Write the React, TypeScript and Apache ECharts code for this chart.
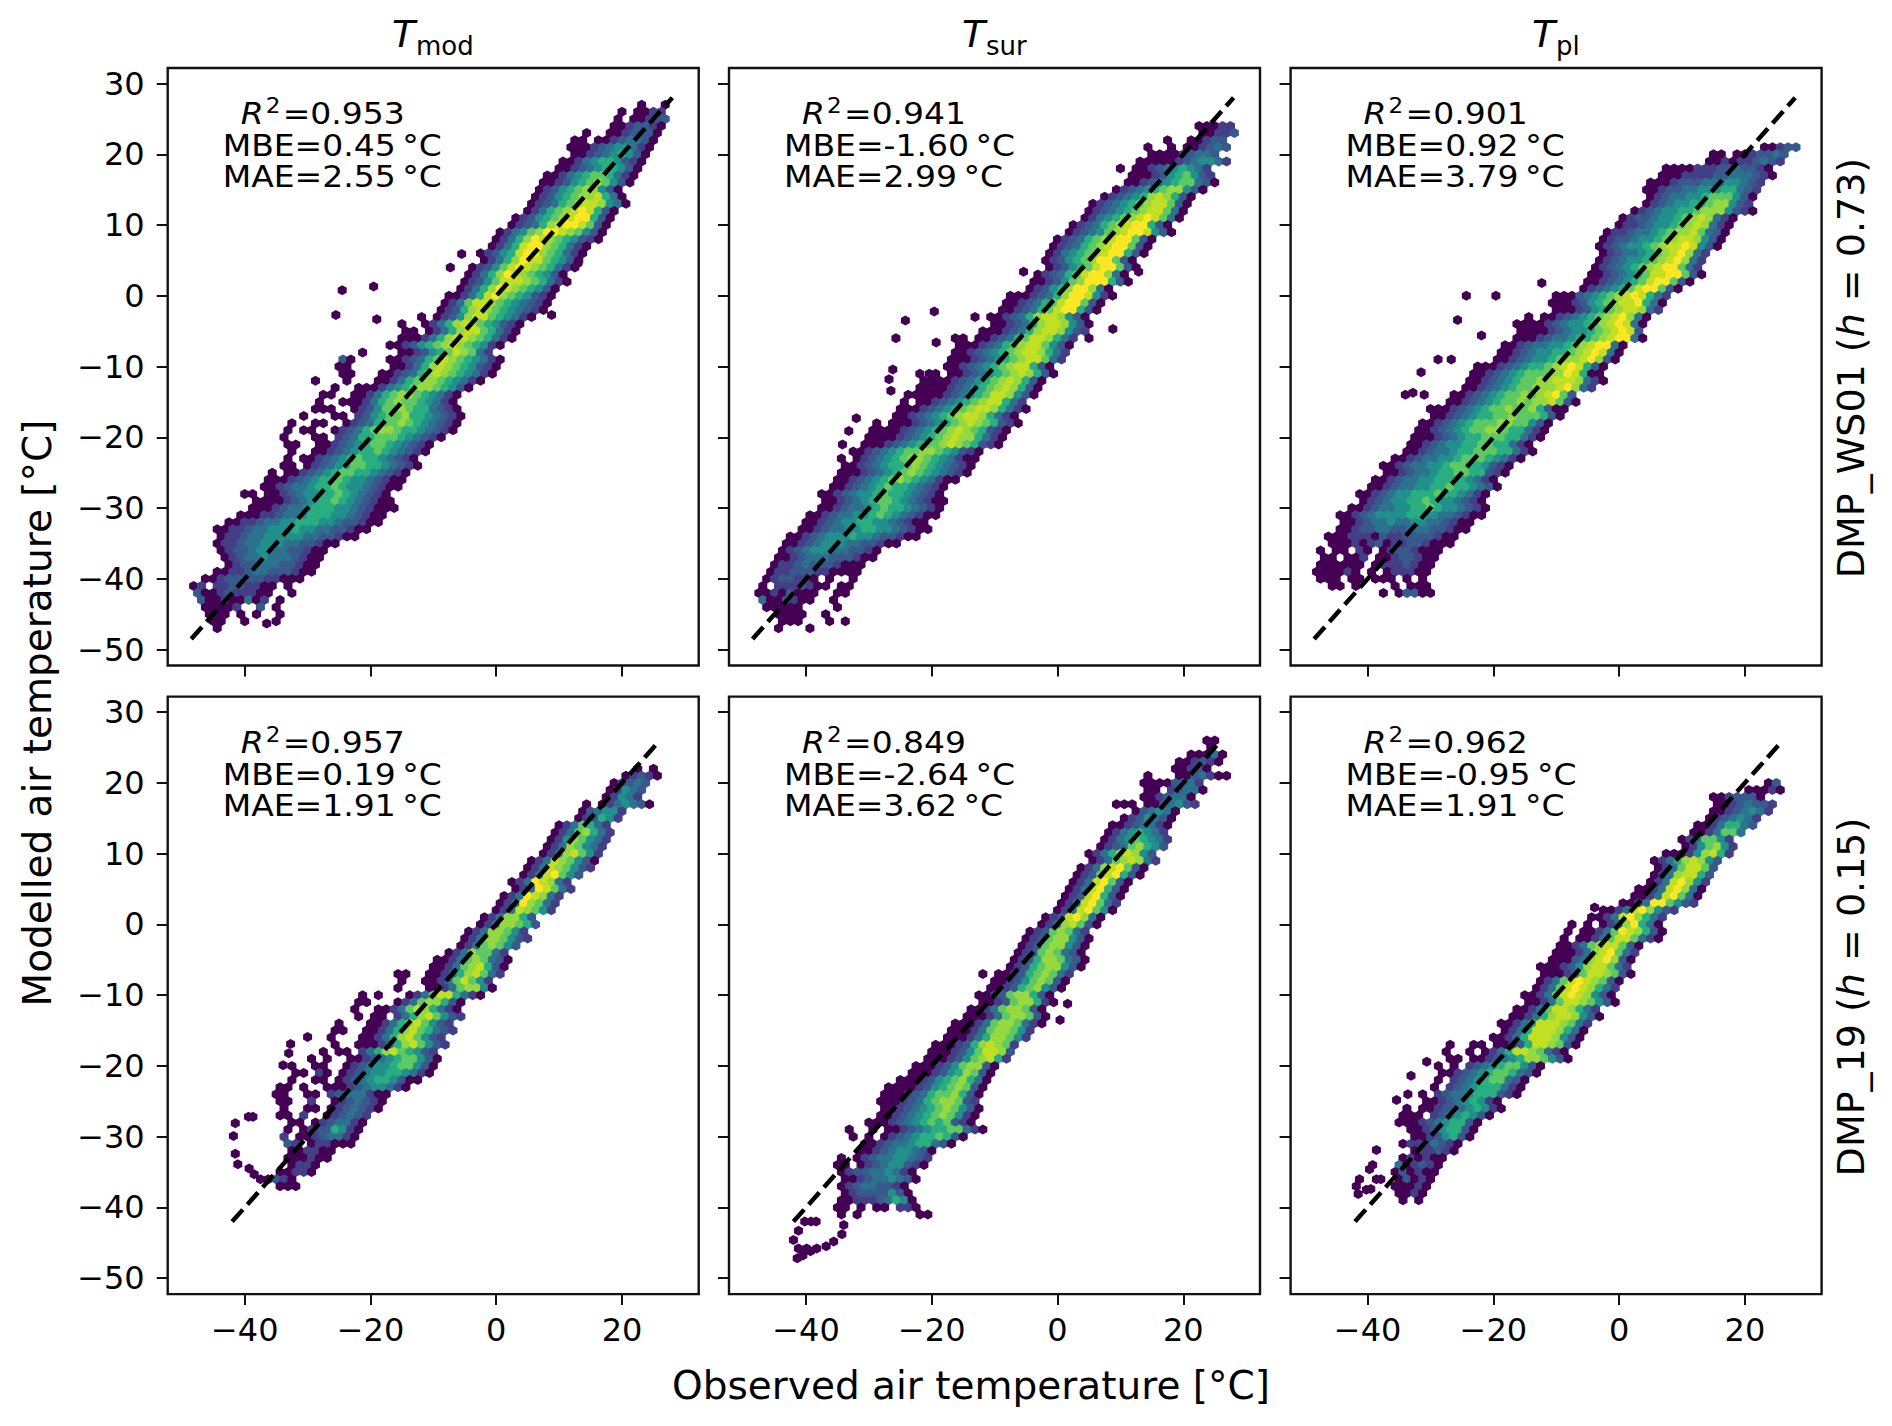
import React, { useEffect, useRef } from "react";
import * as echarts from "echarts";

type Row = [number, number, string];
const FONT = "DejaVu Sans";
const axisRange = [-52.25, 32.2];
const xTicks = [-40, -20, 0, 20];
const yTicks = [-50, -40, -30, -20, -10, 0, 10, 20, 30];
const viridis = ["#440154", "#433e85", "#38598c", "#2c728e", "#21908c", "#28ae80", "#5ec962", "#95d840", "#c2df23", "#fde725"];
const titles = [["T", "mod"], ["T", "sur"], ["T", "pl"]];
const r2Vals = ["0.953", "0.941", "0.901", "0.957", "0.849", "0.962"];
const mbeVals = ["0.45", "-1.60", "0.92", "0.19", "-2.64", "-0.95"];
const maeVals = ["2.55", "2.99", "3.79", "1.91", "3.62", "1.91"];
const lineEnds = [[-48.5, 28], [-48.5, 28], [-48.5, 28], [-42, 25.5], [-42, 25.5], [-42, 25.5]];

// [y, left x, density level per hex cell (0-9, "." = empty)]
const hexTmodWS: Row[] = [
  [27, 23, "0..0"], [26, 20.5, "0.0011"], [25, 19.5, "0.00122"], [24, 19, "0012210"], [23, 14, "0..0012220"], [22, 13, "00.00123320"],
  [21, 11.5, "00012344310"], [20, 12, "0012345420"], [19, 11, "00134554210"], [18, 10, "00123455420"], [17, 8.5, "001345665310"],
  [16, 8, "001245676420"], [15, 7, "01245677420"], [14, 6, "012456778530"], [13, 5, "0123567887430"], [12, 4.5, "013567898520"],
  [11, 3, "0124567899520"], [10, 2, "0123578998620"], [9, 0.5, "01346799876420"], [8, -0.5, "01357987654210"], [7, -1, "0135899765310"],
  [6, -2, "01245899765310"], [5, -2.5, "0135798865420"], [4, -3.5, "01246898765310"], [3, -4, "0135798765420"], [2, -5, "01246888765310"],
  [1, -6, "0135798765420"], [0, -7.5, "00135897654210"], [-1, -8, "01368876543210"], [-2, -9, "01257876543210"], [-3, -12, "0.0124788654310"],
  [-4, -15, "0..0135788654210"], [-5, -14, "00.013578865310"], [-6, -15, "000135788765310"], [-7, -16.5, "001245678765410"],
  [-8, -21, "0....001245687631"], [-9, -25, "20....001235687654310"], [-10, -25.5, "00.....00135787654210"], [-11, -24, "00...001235787654310"],
  [-12, -29, "0...0...00135677654310"], [-13, -26, "0..000134567765420"], [-14, -27, "00..00135677654310"], [-15, -28, "0..000135676654310"],
  [-16, -29, "000..01246676553210"], [-17, -31, "0...00.12456675543210"], [-18, -32, "0..00..012356676543210"], [-19, -33, "0.00..0123567765543210"],
  [-20, -34, "0...00.12355666543210"], [-21, -33.5, "00..001234566543210"], [-22, -33, "0..001234556543210"], [-23, -33, "0.001234565543210"],
  [-24, -34, "00.012345665543210"], [-25, -36, "0.0012345665543210"], [-26, -36, "000123455654432100"], [-27, -37, "001233455654432100"],
  [-28, -39.5, "00.0012344556543210"], [-29, -38, "000012345565432100"], [-30, -39, "0001233455544321000"], [-31, -41, "0001123345554432100"],
  [-32, -43, "00112334455544322100"], [-33, -44, "00112334445443322100"], [-34, -44, "011233444443322100"], [-35, -44, "0112334443322100"],
  [-36, -43.5, "01223443322100"], [-37, -43, "0123343332100"], [-38, -43, "012233322100"], [-39, -45, "0011233222100"], [-40, -46, "0012222211000"],
  [-41, -48, "01.11221100.0"], [-42, -47.5, "2001211100..0"], [-43, -47, "200100301.0"], [-44, -46, "00001..2.0"], [-45, -46, "000.0.0..0"],
  [-46, -45, "00..0...0"], [-47, -44.5, "0"],
];
const outTmodWS = [[-24.5, 0.8], [-19.5, 1.3], [-25.5, -2.7], [-19, -3.3], [-36.5, -46.3], [8.8, -2.7], [-7.3, 4], [-5.5, 5.9], [13, 4.6]];

const hexTsurWS: Row[] = [
  [24, 23, "00011"], [23, 23, "00112"], [22, 17.5, "0..00122"], [21, 14.5, "0..0.001232"], [20, 15.5, "000012332"], [19, 12.5, "000001234431"],
  [18, 10.5, "0.0012345431"], [17, 11.5, "00012456421"], [16, 11, "001234566320"], [15, 9, "012345677420"], [14, 8, "012345787520"],
  [13, 6, "0123456788620"], [12, 4.5, "0123456788630"], [11, 4, "0134567898630"], [10, 3, "0123567899520"], [9, 1.5, "01234678998420"],
  [8, 0, "0123567899620"], [7, -1, "0123567899620"], [6, -1.5, "0134567899520"], [5, -1.5, "012456799620"], [4, -1.5, "012456899620"],
  [3, -3, "012356899730"], [2, -3.5, "0012467999520"], [1, -4, "01245799730"], [0, -7.5, "00012357998410"], [-1, -8, "0012356899620"],
  [-2, -9, "0012356899520"], [-3, -12.7, "0.0012357887420"], [-4, -10, "0012357887420"], [-5, -12, "00012357887421"], [-6, -16, "00.0012356887531"],
  [-7, -15.5, "000123567886420"], [-8, -16, "001234567887531"], [-9, -17, "000123456788631"], [-10, -17.5, "00123456788520"], [-11, -20, "0.00123456787520"],
  [-12, -21, "0000123456787520"], [-13, -22, "0000123456787520"], [-14, -23.5, "00000123456887420"], [-15, -24.5, "0.00123456788531"],
  [-16, -25, "00012345678875310"], [-17, -26, "0012345678875310"], [-18, -29, "0.00012345678765210"], [-19, -29, "000012345678765210"],
  [-20, -29.5, "000012345678775310"], [-21, -31, "000123456678765210"], [-22, -32, "00123456677654210"], [-23, -34, "0.0123456776543100"],
  [-24, -34, "00123455676543210"], [-25, -35, "00012345676543210"], [-26, -35, "0012345676543100"], [-27, -36, "001234565543210"],
  [-28, -38, "0012344565543210"], [-29, -37, "0012345665432100"], [-30, -37.5, "0012334565543210"], [-31, -39, "00123344565432100"],
  [-32, -40, "0012344554432100"], [-33, -41, "00123344554432100"], [-34, -42, "00123444544322100"], [-35, -43, "001234443322100"],
  [-36, -44, "0123444332210"], [-37, -44.5, "0012333222100"], [-38, -45, "011232221000"], [-39, -45.5, "011222110000"], [-40, -46, "0122110.0..0"],
  [-41, -47, "0.1112100.00"], [-42, -48, "00102000..00"], [-43, -47.5, "3002100..0"], [-44, -46, "00000....0"], [-45, -45, "0000..0.."],
  [-46, -44, "000...0.0"], [-47, -44, "0...0"],
];
const outTsurWS = [[-19.6, -2.2], [-24.2, -3.5], [-25.7, -6], [-19.3, -6.6], [-26.2, -10.4], [-26.8, -11.8], [-26.5, -13.4], [-21.9, -11], [-20.4, -11], [8.8, -4.7], [12.9, 3.4], [-5.4, 3.4], [5, -6], [-32, -17.3], [-33.2, -19.1], [-34.2, -21]];

const hexTplWS: Row[] = [
  [21, 22.5, "00122"], [20, 14.5, "00.0012232"], [19, 14, "0010112321"], [18, 8, "00001112232210"], [17, 7, "000111122333210"], [16, 5, "000122233344321"],
  [15, 4.5, "001223344455321"], [14, 4.5, "01233445666420"], [13, 4, "01234455677421"], [12, 2.5, "0123445567774210"], [11, 1, "012234456787310"],
  [10, 0, "011234456787310"], [9, -1.5, "0112334567786320"], [8, -2, "0122344567887420"], [7, -3, "0123445678898420"], [6, -3, "01233456789731"],
  [5, -3, "01234456789731"], [4, -3.5, "01234567899631"], [3, -5, "001234568899620"], [2, -5.5, "00123456899620"], [1, -6, "0123456899620"],
  [0, -9.5, "000234567898531"], [-1, -10.5, "000124567889530"], [-2, -10.5, "00012456788731"], [-3, -14, "0.00123456789730"], [-4, -16, "00001234456789830"],
  [-5, -16, "0000123445678982"], [-6, -16.5, "00012334556789930"], [-7, -18.5, "0012334456789930"], [-8, -19, "0012344556789830"], [-9, -20, "0012344567789720"],
  [-10, -22, "00012345567898520"], [-11, -23, "00123456667798500"], [-12, -24, "001234566778887310"], [-13, -25, "00123456677789731"], [-14, -26, "0012345667678962"],
  [-15, -27, "00123456676778620"], [-16, -30, "000123456676675200"], [-17, -30, "00123455667666520"], [-18, -31, "00123456667766420"], [-19, -31.5, "00123456677655310"],
  [-20, -33, "00012345566655310"], [-21, -33.5, "0012344556655310"], [-22, -34, "00123345566655310"], [-23, -36, "00123344566654310"], [-24, -37, "00123344566554210"],
  [-25, -37, "0012334556655210"], [-26, -38.5, "0012334455554310"], [-27, -40, "00123344556554320"], [-28, -41, "00123445556554310"], [-29, -41, "0123445565443210"],
  [-30, -43, "001233445565443210"], [-31, -44, "0012344445544332100"], [-32, -44, "00123343344332100"], [-33, -45, "00122332233322100"], [-34, -46, "00011102112222100"],
  [-35, -46, "0001012011221000"], [-36, -47, "0.00.10.01221000"], [-37, -47, "00.001.00122100"], [-38, -48, "000000.01112100"], [-39, -48.5, "000010.0.011100"],
  [-40, -47.5, "000.00.000.0.0"], [-41, -46, "00.0....0.000"], [-42, -38, "0.02200"],
];
const outTplWS = [[-24.3, 0], [-19.6, 0], [-25.7, -3.4], [-21.9, -5.6], [-31.5, -10.8], [-28.8, -9], [-26.7, -9], [-12.3, 1.8], [-32.8, -13.7], [-34, -14], [-31, -14]];

const hexTmod19: Row[] = [
  [22, 23, "0.0"], [21, 20, "01210"], [20, 19, "01232"], [19, 17.5, "01432"], [18, 17, "01431"], [17, 14.5, "0.0134320"], [16, 14, "023441"], [15, 12.5, "012541"],
  [14, 10.5, "0136531"], [13, 9.5, "01367531"], [12, 8.5, "01476431"], [11, 8, "01376431"], [10, 7, "01378641"], [9, 5.5, "013876420"], [8, 4.5, "013876421"], [7, 4, "01389642"],
  [6, 3, "01398731"], [5, 2.5, "01398631"], [4, 1.5, "01398731"], [3, 0, "01397631"], [2, -0.5, "01387641"], [1, -1.5, "0137752"], [0, -3, "01377652"], [-1, -4, "01377641"],
  [-2, -5.5, "013776421"], [-3, -6, "01367642"], [-4, -7, "01376631"], [-5, -9.5, "0013676320"], [-6, -10, "0013678520"], [-7, -15.5, "00..0012578631"], [-8, -15.5, "0..001368641"],
  [-9, -15.5, "0...001367740"], [-10, -21, "0.0...0136885310"], [-11, -21.5, "00...013677520"], [-12, -22, "0..00136875310"], [-13, -21.5, "0.00.135786421"], [-14, -25, "0...00135786421"],
  [-15, -26, "00..001357865321"], [-16, -26, "0...00135786421"], [-17, -26, "0..000135786421"], [-18, -27, "0.00.1357865421"], [-19, -30, "0.0..001234566420"], [-20, -32, "0..00..012344566420"],
  [-21, -32.5, "00.10.012344554310"], [-22, -33, "0..00.01234554200"], [-23, -34.5, "00.0..00012344310"], [-24, -34.5, "00..00.12333100"], [-25, -35, "00..1..0123210"], [-26, -34, "0..00.0123210"],
  [-27, -34, "00.1..012321"], [-28, -34, ".00.0123310"], [-29, -33, "0.01225410"], [-30, -33.5, "1.00123310"], [-31, -33.5, "21.011000"], [-32, -33, "001100"], [-33, -33, "000100"],
  [-34, -33, "0110"], [-35, -35, "00110"], [-36, -37, "00210"], [-37, -34.5, "000"],
];
const outTmod19 = [[-41.8, -29.9], [-41.5, -28.1], [-39.4, -27.2], [-38.7, -27.2], [-41.5, -32.4], [-41.1, -33.9], [-39.3, -34.5], [-38.5, -35.3], [-30, -15.9], [-32.7, -16.9], [-33, -18.2], [-33.9, -19.9]];

const hexTsur19: Row[] = [
  [26, 24, "00"], [25, 24.5, "0"], [24, 21.5, "00030"], [23, 19.5, "001210"], [22, 19, "00120"], [21, 14.5, "0...0023100"], [20, 14, "00002331"], [19, 14, "00.12330"],
  [18, 13.5, "0012330"], [17, 9.5, "000.0023421"], [16, 12, "023430"], [15, 11, "0124320"], [14, 8.5, "00123310"], [13, 8, "01345431"], [12, 7, "013465431"], [11, 6.5, "012367542"],
  [10, 5.5, "013578742"], [9, 5, "013678731"], [8, 4, "013789620"], [7, 3.5, "012689520"], [6, 2.5, "01389620"], [5, 2, "01389520"], [4, 1, "01289520"], [3, 0, "01389631"],
  [2, -0.5, "01389640"], [1, -1.5, "01289730"], [0, -2.5, "01378620"], [-1, -4, "01267631"], [-2, -5, "012677420"], [-3, -5.5, "012677420"], [-4, -6, "012676320"], [-5, -6.5, "0125776320"],
  [-6, -7.5, "0125677420"], [-7, -11.5, "0.0012567631"], [-8, -10.5, "0012467620"], [-9, -11, "0012567420"], [-10, -12, "0012677520"], [-11, -12.5, "0012677510"], [-12, -14, "0013677620"],
  [-13, -15, "00013677620"], [-14, -16, "000136776310"], [-15, -17, "00013677641"], [-16, -18, "00013577641"], [-17, -19, "00012578761"], [-18, -20, "00012468872"], [-19, -21, "00012467851"],
  [-20, -22, "00012467720"], [-21, -23, "00012457620"], [-22, -25, "000124567530"], [-23, -27, "0000124567620"], [-24, -28, "0001235667520"], [-25, -28.5, "0001235677621"], [-26, -28, "0012345676420"],
  [-27, -28, "0012345676410"], [-28, -29.5, "00012345656210"], [-29, -33, "0..0.0012345566310"], [-30, -33, "0.0.01234556520"], [-31, -31, "001233455320"], [-32, -31, "0012344320"],
  [-33, -34, "0.0123344321"], [-34, -35, "00.012344210"], [-35, -34, "0122334310"], [-36, -34, "0012334320"], [-37, -34, "012332210"], [-38, -34, "012222420"], [-39, -34.5, "0011123540"],
  [-40, -34.5, "00.0.00.110"], [-41, -34, "0.0.......00"],
];
const outTsur19 = [[-40.2, -42], [-39.2, -42], [-38.4, -42], [-41.2, -43.3], [-42, -44.6], [-41.2, -45.8], [-39.9, -45.8], [-38.3, -45.8], [-36.8, -45.5], [-35.6, -44.8], [-34.3, -43.8], [-34, -42.5], [-41.4, -47.2], [-40.5, -46.8], [-39.3, -46.2], [1.6, -11.2], [0.4, -13.5]];

const hexTpl19: Row[] = [
  [20, 24, "02"], [19, 21, "00010"], [18, 15.5, "0012220"], [17, 15.5, "00123221"], [16, 14.5, "00123431"], [15, 14, "0123431"], [14, 12.5, "00135532"], [13, 12, "0013663"],
  [12, 10.5, "0136641"], [11, 10, "0146741"], [10, 7, "000147851"], [9, 6, "013578742"], [8, 6, "01368862"], [7, 5, "01378852"], [6, 5, "01389741"], [5, 2.5, "001389730"],
  [4, 2, "001389630"], [3, 0, "0013996421"], [2, -2, "0013897421"], [1, -4, "0013897531"], [0, -7.5, "0.0.01379530"], [-1, -8, "0.00136987520"], [-2, -8.5, "0.00136886310"],
  [-3, -9, "00136788620"], [-4, -10, "00013789631"], [-5, -11, "00023789720"], [-6, -12, "000124788631"], [-7, -12.5, "000136887620"], [-8, -12.5, "01368987620"], [-9, -13, "01368987531"],
  [-10, -14.5, "001368987420"], [-11, -15, "001368876420"], [-12, -16, "00136887531"], [-13, -17.5, "001357887420"], [-14, -18.5, "001358887631"], [-15, -18.5, "01358887530"],
  [-16, -20, "001358887420"], [-17, -27, "0..00.00125887620"], [-18, -27, "0..0.01358876310"], [-19, -27.5, "00.0012345776420"], [-20, -29, "0.0.1234566420"], [-21, -28, "0012345665320"],
  [-22, -28.5, "0.1234566320"], [-23, -29.5, "0.1234555310"], [-24, -31, "0.12334555210"], [-25, -30.5, "0012345410"], [-26, -34, "0.00122345410"], [-27, -34, "000.12345420"],
  [-28, -34.5, "00012345520"], [-29, -33.5, "001245520"], [-30, -33, "00124520"], [-31, -34, "01113210"], [-32, -33, "011210"], [-33, -34, "010100"], [-34, -35.5, "301210"],
  [-35, -36, "020100"], [-36, -35, "02010"], [-37, -35.5, "00010"], [-38, -35.5, "0010"], [-39, -35, "0.0"],
];
const outTpl19 = [[-38.6, -31.9], [-39.2, -34], [-39.7, -34.6], [-41.3, -36], [-38.6, -36], [-40.2, -37.5], [-41.8, -37], [-41.5, -38.1], [-39.5, -37.4], [-37.9, -36], [-33.1, -21.4], [-30.6, -19.4], [-33.6, -24], [-35.4, -24.8], [-3.9, 2.4]];

const panelHex = [hexTmodWS, hexTsurWS, hexTplWS, hexTmod19, hexTsur19, hexTpl19];
const panelOut = [outTmodWS, outTsurWS, outTplWS, outTmod19, outTsur19, outTpl19];

const STEP = 1.25;
function cells(rows: Row[], extra: number[][]) {
  const pts: number[][] = [];
  rows.forEach(([y, left, s]) => {
    const off = (Math.abs(y) % 2) * STEP / 2;
    const k0 = Math.round((left - off) / STEP);
    [...s].forEach((c, i) => {
      if (c !== ".") pts.push([off + (k0 + i) * STEP, y, Number(c)]);
    });
  });
  extra.forEach(([x, y]) => pts.push([x, y, 0]));
  return pts;
}

const HEX = "path://M0,-10L8.66,-5L8.66,5L0,10L-8.66,5L-8.66,-5Z";
const colLeft = [167.7, 729, 1290.6];
const rowTop = [68, 696.6];
const PW = 531;
const PH = 597.5;
const minus = (v: number) => String(v).replace("-", "\u2212");

function buildOption() {
  const grid: any[] = [], xAxis: any[] = [], yAxis: any[] = [], series: any[] = [], graphic: any[] = [];
  const txt = (x: number, y: number, text: string, fs: number, extra: any = {}, root: any = {}) =>
    graphic.push({ type: "text", x, y, silent: true, ...root, style: { x: 0, y: 0, text, fontSize: fs, fontFamily: FONT, fill: "#000", textVerticalAlign: "middle", ...extra } });
  for (let i = 0; i < 6; i++) {
    const c = i % 3, r = Math.floor(i / 3);
    grid.push({ left: colLeft[c], top: rowTop[r], width: PW, height: PH, show: true, borderColor: "#111", borderWidth: 2.4, backgroundColor: "transparent", containLabel: false });
    xAxis.push({
      type: "value", gridIndex: i, min: axisRange[0], max: axisRange[1], splitLine: { show: false }, axisLine: { show: false, onZero: false },
      axisTick: { show: true, length: 11, inside: false, lineStyle: { color: "#111", width: 2 }, customValues: xTicks },
      axisLabel: { show: r === 1, margin: 20, fontSize: 32, fontFamily: FONT, color: "#000", customValues: xTicks, formatter: minus },
    });
    yAxis.push({
      type: "value", gridIndex: i, min: axisRange[0], max: axisRange[1], splitLine: { show: false }, axisLine: { show: false, onZero: false },
      axisTick: { show: true, length: 11, lineStyle: { color: "#111", width: 2 }, customValues: yTicks },
      axisLabel: { show: c === 0, margin: 23, fontSize: 32, fontFamily: FONT, color: "#000", customValues: yTicks, formatter: minus },
    });
    series.push({
      type: "scatter", xAxisIndex: i, yAxisIndex: i, symbol: HEX, symbolSize: [9, 10], silent: true, animation: false, z: 2,
      data: cells(panelHex[i], panelOut[i]),
      itemStyle: { color: (p: any) => viridis[p.value[2]], opacity: 1 },
    });
    series.push({
      type: "line", xAxisIndex: i, yAxisIndex: i, silent: true, symbol: "none", z: 3, animation: false,
      data: [[lineEnds[i][0], lineEnds[i][0]], [lineEnds[i][1], lineEnds[i][1]]],
      lineStyle: { color: "#000", width: 4.5, type: [16, 7] },
    });
    const L = colLeft[c], T = rowTop[r];
    const fs = 30;
    const stretch = { scaleX: 1.1 };
    txt(L + 73, T + 46, "R", fs, { fontStyle: "italic" }, stretch);
    txt(L + 73 + 25, T + 38, "2", 21, {}, stretch);
    txt(L + 73 + 42, T + 46, "=" + r2Vals[i], fs, {}, stretch);
    txt(L + 55, T + 78, "MBE=" + mbeVals[i] + "\u2009°C", fs, {}, stretch);
    txt(L + 55, T + 109, "MAE=" + maeVals[i] + "\u2009°C", fs, {}, stretch);
  }
  const titleX = [392, 962, 1532];
  titles.forEach(([a, b], i) => {
    txt(titleX[i], 34, a, 38, { fontStyle: "italic" });
    txt(titleX[i] + 24, 46, b, 26);
  });
  txt(37, 713, "Modelled air temperature [°C]", 39, { textAlign: "center" }, { rotation: Math.PI / 2 });
  txt(971, 1385, "Observed air temperature [°C]", 39, { textAlign: "center" });
  const rich = { a: { fontSize: 38, fontFamily: FONT, fill: "#000" }, b: { fontSize: 38, fontFamily: FONT, fontStyle: "italic", fill: "#000" } };
  txt(1851, 368, "{a|DMP_WS01 (}{b|h}{a| = 0.73)}", 38, { textAlign: "center", rich }, { rotation: Math.PI / 2 });
  txt(1851, 997, "{a|DMP_19 (}{b|h}{a| = 0.15)}", 38, { textAlign: "center", rich }, { rotation: Math.PI / 2 });
  return { animation: false, backgroundColor: "#fff", grid, xAxis, yAxis, series, graphic };
}

export default function App() {
  const ref = useRef<HTMLDivElement>(null);
  useEffect(() => {
    const chart = echarts.init(ref.current!, undefined, { renderer: "svg" });
    chart.setOption(buildOption() as any);
    return () => chart.dispose();
  }, []);
  return <div ref={ref} style={{ position: "absolute", left: 0, top: 0, width: 1892, height: 1426, background: "#fff" }} />;
}
